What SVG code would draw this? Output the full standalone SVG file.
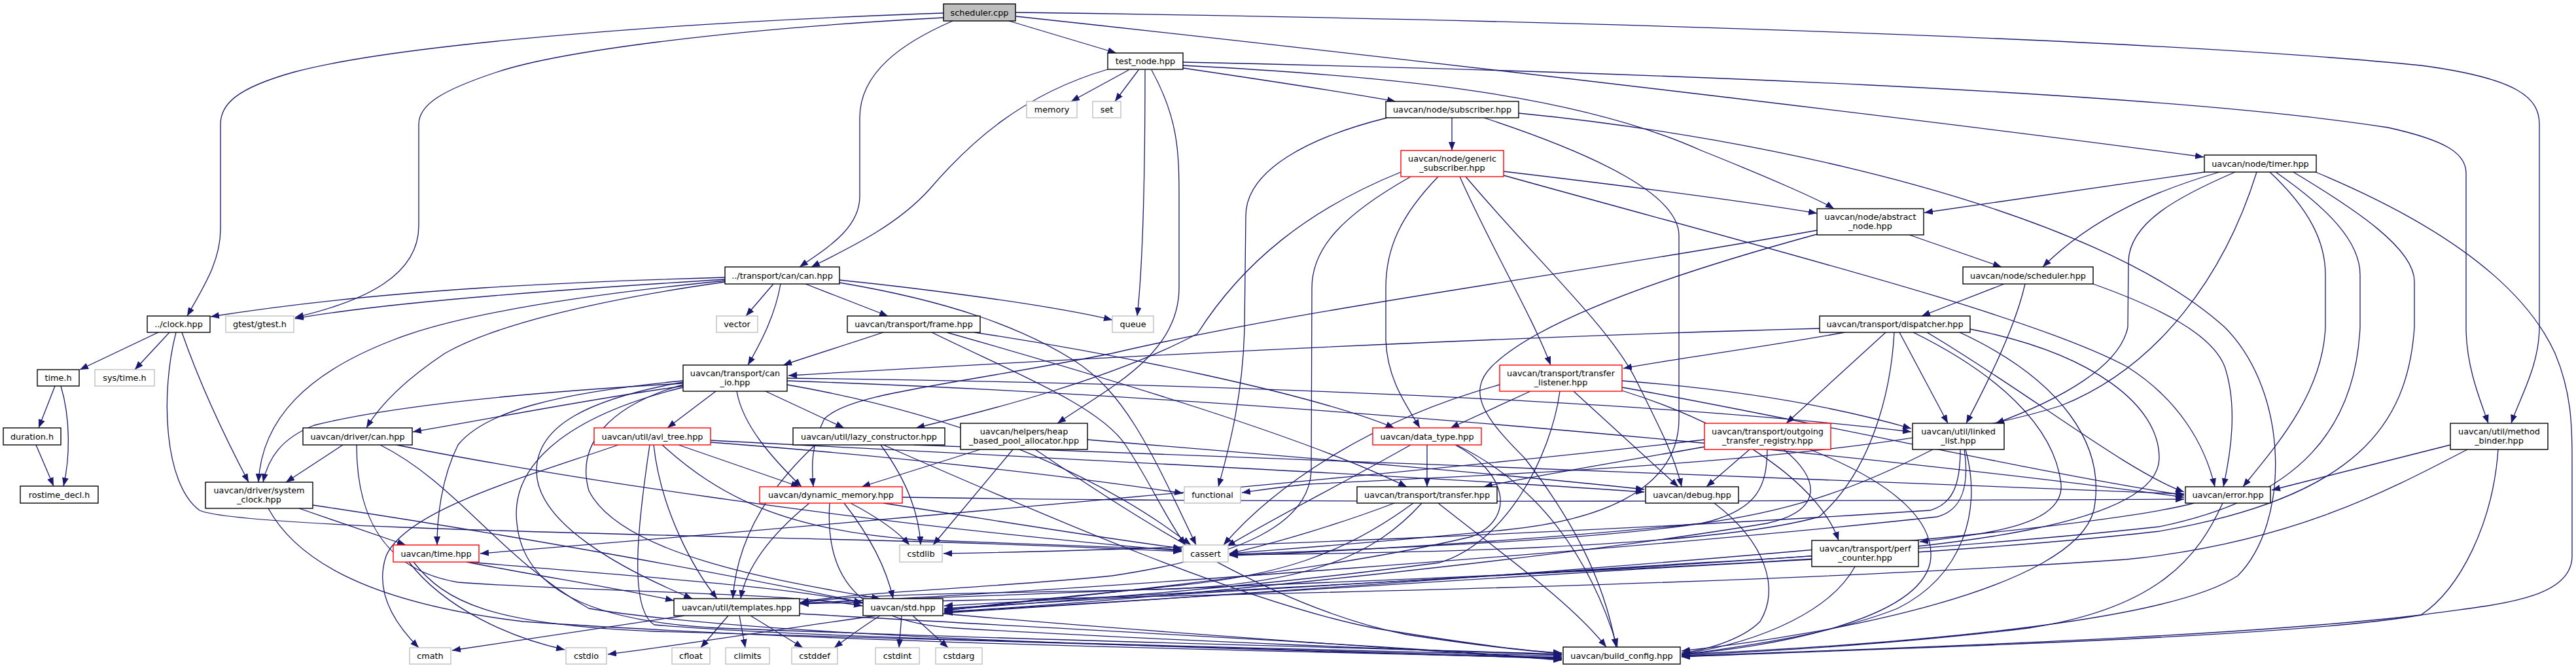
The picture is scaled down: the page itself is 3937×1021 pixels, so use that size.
<svg xmlns="http://www.w3.org/2000/svg" width="3937" height="1021" viewBox="0 0 3937 1021">
<defs>
<marker id="a" viewBox="0 0 13 10" refX="13" refY="5" markerWidth="13" markerHeight="10" markerUnits="userSpaceOnUse" orient="auto"><path d="M0,0 L13,5 L0,10 z" fill="#191970"/></marker>
<style>
.e path{fill:none;stroke:#191970;stroke-width:1.3;marker-end:url(#a)}
.n rect{fill:#fff;stroke:#000;stroke-width:1.4}
.g rect{fill:#fff;stroke:#bfbfbf;stroke-width:1.4}
.r rect{fill:#fff;stroke:#ff0000;stroke-width:1.4}
text{font-family:"DejaVu Sans","Liberation Sans",sans-serif;font-size:12.8px;text-anchor:middle;fill:#000}
</style>
</defs>
<rect x="0" y="0" width="3937" height="1021" fill="#fff"/>
<g id="edges" class="e">
<path d="M1442,20 C1000,35 600,70 450,110 C360,135 337,160 337,190 L337,350 C337,400 310,440 286,483"/>
<path d="M1442,27 C1100,45 850,80 760,110 C675,138 640,160 640,190 L640,345 C640,420 560,460 451,485"/>
<path d="M1456,32 C1380,65 1314,110 1314,180 L1314,300 C1314,350 1262,380 1222,408"/>
<path d="M1542,32 L1706,81"/>
<path d="M1553,25 C2200,95 3000,190 3368,240"/>
<path d="M1552,19 C2400,30 3300,60 3700,100 C3850,120 3881,150 3881,190 L3881,500 C3881,560 3850,610 3838,647"/>
<path d="M1808,95 C2500,110 3300,140 3650,195 C3740,215 3769,235 3769,265 L3769,500 C3769,560 3790,610 3803,647"/>
<path d="M1808,100 C2100,115 2400,140 2600,230 C2700,270 2780,305 2803,319"/>
<path d="M1808,104 C1950,125 2050,140 2133,155"/>
<path d="M1725,107 L1637,155"/>
<path d="M1740,107 L1704,155"/>
<path d="M1750,107 C1750,300 1745,420 1738,483"/>
<path d="M1693,106 C1560,145 1480,220 1420,290 C1370,345 1300,378 1240,408"/>
<path d="M1760,107 C1800,180 1802,230 1802,300 L1802,440 C1802,540 1700,590 1616,647"/>
<path d="M242,508 L122,565"/>
<path d="M259,508 L206,565"/>
<path d="M278,508 C310,600 350,680 380,737"/>
<path d="M269,508 C245,600 250,740 305,780 C360,805 900,815 1300,825 C1500,830 1700,838 1806,843"/>
<path d="M84,590 L59,654"/>
<path d="M93,590 C108,640 107,700 97,743"/>
<path d="M55,680 L82,743"/>
<path d="M1182,434 L1140,483"/>
<path d="M1193,434 C1185,480 1165,520 1143,558"/>
<path d="M1231,434 L1357,483"/>
<path d="M1283,428 C1400,440 1600,465 1700,489"/>
<path d="M1283,432 C1450,460 1560,500 1640,550 C1720,600 1760,690 1828,833"/>
<path d="M1108,424 C900,430 600,440 322,484"/>
<path d="M1108,427 C900,440 600,460 451,487"/>
<path d="M1108,429 C900,450 700,480 600,520 C470,570 400,640 395,737"/>
<path d="M1108,431 C900,460 750,500 680,540 C620,580 580,620 560,654"/>
<path d="M2219,180 L2219,230"/>
<path d="M2120,180 C2000,210 1904,260 1904,330 L1902,500 C1900,600 1880,680 1862,744"/>
<path d="M2268,180 C2450,240 2566,300 2566,360 L2566,640 C2566,720 2500,790 2300,810 C2100,830 1950,840 1879,846"/>
<path d="M2321,173 C2700,210 3200,320 3400,500 C3500,600 3500,800 3420,880 C3300,960 2800,990 2570,1000"/>
<path d="M2298,262 C2450,280 2650,305 2777,326"/>
<path d="M2298,268 C2700,380 3100,480 3250,560 C3330,610 3370,680 3385,744"/>
<path d="M2231,270 C2280,380 2340,480 2370,558"/>
<path d="M2240,270 C2350,400 2460,500 2500,580 C2540,660 2560,700 2570,744"/>
<path d="M2198,270 C2140,330 2118,380 2118,440 L2118,520 C2120,580 2150,620 2170,654"/>
<path d="M2156,270 C2050,330 2005,380 2005,440 L2004,720 C2000,800 1900,850 1700,880 C1500,900 1300,905 1223,921"/>
<path d="M2141,263 C2000,320 1900,400 1830,510 C1700,580 1500,630 1400,654"/>
<path d="M2918,359 L3059,408"/>
<path d="M2777,352 C2400,420 2000,470 1700,540 C1450,590 1300,600 1260,640 C1240,680 1240,710 1243,744"/>
<path d="M2777,358 C2550,420 2350,490 2280,560 C2240,600 2270,640 2330,700 C2400,790 2450,880 2470,989"/>
<path d="M3369,263 L2941,325"/>
<path d="M3392,263 C3300,290 3200,330 3122,408"/>
<path d="M3416,263 C3330,300 3254,340 3253,400 L3252,500 C3240,560 3150,610 3050,647"/>
<path d="M3449,263 C3400,420 3300,560 3150,620 C2900,700 2400,720 2000,740 C1950,745 1920,750 1898,753"/>
<path d="M3469,263 C3530,320 3554,370 3554,420 L3554,500 C3550,600 3480,680 3428,744"/>
<path d="M3478,263 C3560,320 3607,370 3607,420 L3607,500 C3600,650 3520,760 3300,805 C2800,860 1800,905 1443,926"/>
<path d="M3505,263 C3600,320 3690,380 3690,430 L3690,500 C3680,650 3600,760 3300,812 C2800,870 1600,905 1223,922"/>
<path d="M3539,263 C3700,330 3850,420 3905,540 C3930,600 3931,650 3931,700 L3931,850 C3931,920 3800,925 3700,940 C3400,975 2900,990 2570,1003"/>
<path d="M3063,434 L2937,483"/>
<path d="M3095,434 C3080,500 3040,580 3005,647"/>
<path d="M3199,434 C3300,470 3380,510 3400,560 C3420,620 3410,690 3398,744"/>
<path d="M2781,502 C2300,515 1700,545 1205,574"/>
<path d="M2819,508 C2700,530 2580,545 2481,563"/>
<path d="M2882,508 L2730,647"/>
<path d="M2903,508 L2977,647"/>
<path d="M2924,508 C3050,570 3140,650 3150,740 C3155,800 3050,815 2934,828"/>
<path d="M2945,508 C3100,600 3250,720 3338,752"/>
<path d="M2895,508 C2890,600 2860,720 2780,790 C2600,840 2100,846 1879,848"/>
<path d="M3011,503 C3200,540 3300,620 3300,700 C3300,800 3000,840 2600,860 C2200,885 1700,915 1443,930"/>
<path d="M2995,508 C3150,580 3220,680 3200,780 C3170,900 2800,970 2570,995"/>
<path d="M2339,598 L2217,654"/>
<path d="M2405,598 L2565,744"/>
<path d="M2384,598 C2370,700 2300,830 2200,860 C1900,900 1600,920 1443,932"/>
<path d="M2292,588 C2100,640 1950,740 1870,833"/>
<path d="M2479,582 C2650,595 2800,620 2921,655"/>
<path d="M2479,592 C2800,650 3100,720 3338,757"/>
<path d="M2479,597 C2650,650 2780,740 2810,826"/>
<path d="M2181,680 L2181,744"/>
<path d="M2156,680 C2050,740 1950,790 1875,835"/>
<path d="M2224,680 C2300,720 2320,790 2250,820 C2000,880 1600,915 1443,933"/>
<path d="M2226,680 C2350,740 2430,850 2472,989"/>
<path d="M2131,769 C2050,800 1950,830 1879,846"/>
<path d="M2160,769 C2050,850 1950,880 1800,895 C1600,915 1500,925 1443,934"/>
<path d="M2173,769 C2100,850 2000,890 1800,900 C1600,906 1300,906 1223,922"/>
<path d="M2198,769 C2300,850 2400,920 2455,989"/>
<path d="M2620,769 C2700,830 2720,900 2690,950 C2660,980 2600,995 2570,998"/>
<path d="M2674,687 L2608,744"/>
<path d="M2605,683 C2450,710 2330,730 2268,744"/>
<path d="M2701,687 C2700,740 2690,780 2600,800 C2400,830 2000,843 1879,847"/>
<path d="M2726,687 C2780,730 2790,780 2700,800 C2400,850 1800,915 1443,935"/>
<path d="M2766,687 C2900,740 2960,800 2950,860 C2930,950 2700,990 2570,1000"/>
<path d="M2605,672 C2200,720 1300,800 734,846"/>
<path d="M2954,687 C2850,740 2750,780 2600,800 C2300,830 2000,845 1879,849"/>
<path d="M2996,687 C2996,740 2985,770 2950,780 C2500,810 1800,840 1442,846"/>
<path d="M3002,687 C3010,740 3000,780 2960,790 C2500,840 1600,906 1223,922"/>
<path d="M3004,687 C3030,780 3000,880 2900,930 C2800,970 2650,990 2570,1001"/>
<path d="M2769,855 C2300,880 1800,915 1443,936"/>
<path d="M2835,866 C2800,930 2700,980 2570,1000"/>
<path d="M3353,769 C3200,810 2500,870 1443,937"/>
<path d="M3397,769 C3360,850 3300,930 3100,960 C2900,985 2700,995 2570,1002"/>
<path d="M3745,680 L3472,749"/>
<path d="M3771,687 C3650,750 3500,830 3250,855 C2600,900 1700,912 1223,923"/>
<path d="M3818,687 C3810,800 3760,900 3700,940 C3500,975 2900,990 2570,1004"/>
<path d="M1094,598 L1020,654"/>
<path d="M1126,598 C1135,650 1180,700 1225,744"/>
<path d="M1170,598 L1290,654"/>
<path d="M1044,590 C900,610 750,640 631,660"/>
<path d="M1044,586 C800,600 600,620 480,650 C430,670 410,700 402,737"/>
<path d="M1044,582 C850,600 740,630 700,680 C675,730 668,790 668,833"/>
<path d="M1044,584 C900,610 820,650 820,720 C820,800 950,870 1058,915"/>
<path d="M1044,588 C930,620 880,680 900,750 C950,850 1200,890 1345,915"/>
<path d="M1044,592 C850,640 780,720 790,800 C800,900 900,950 1100,960 C1600,980 2100,990 2387,1000"/>
<path d="M1203,578 C1800,585 2500,610 2921,660"/>
<path d="M1203,582 C2000,610 2900,700 3338,760"/>
<path d="M1203,588 C1500,640 1700,740 1820,833"/>
<path d="M1037,680 L1222,744"/>
<path d="M999,680 C1010,780 1060,870 1096,915"/>
<path d="M945,680 C800,730 620,780 590,850 C570,910 610,960 640,990"/>
<path d="M993,680 C975,800 960,930 1000,955 C1300,980 2000,990 2387,1003"/>
<path d="M1012,680 C1100,760 1200,810 1400,825 C1600,832 1750,838 1806,840"/>
<path d="M1086,673 C1600,700 2200,730 2513,752"/>
<path d="M1086,676 C1400,700 1650,730 1808,754"/>
<path d="M1346,680 C1390,740 1405,790 1407,833"/>
<path d="M1246,680 C1160,760 1125,840 1120,915"/>
<path d="M1350,680 C1600,790 1900,920 2100,960 C2250,985 2330,995 2387,998"/>
<path d="M1397,680 C2000,705 2800,730 3338,755"/>
<path d="M1498,687 L1317,744"/>
<path d="M1548,687 L1426,833"/>
<path d="M1582,687 C1750,800 1950,930 2150,970 C2280,990 2350,996 2387,999"/>
<path d="M1662,672 C2000,700 2300,725 2513,748"/>
<path d="M1237,769 C1175,820 1140,870 1132,915"/>
<path d="M1300,769 C1340,790 1370,810 1390,833"/>
<path d="M1290,769 C1330,820 1355,870 1365,915"/>
<path d="M1268,769 C1262,860 1290,950 1460,960 C1800,980 2200,995 2387,1001"/>
<path d="M1350,769 C1550,800 1700,825 1806,838"/>
<path d="M1379,760 C2000,770 2800,765 3338,763"/>
<path d="M625,859 C680,930 780,975 863,993"/>
<path d="M713,859 C820,880 950,900 1030,918"/>
<path d="M718,859 C950,880 1200,895 1318,922"/>
<path d="M632,859 C680,920 750,955 1000,965 C1600,985 2100,995 2387,1005"/>
<path d="M457,777 L620,833"/>
<path d="M478,772 C800,820 1150,885 1318,921"/>
<path d="M410,777 C450,850 550,920 800,950 C1300,985 2000,995 2387,1006"/>
<path d="M524,680 L437,737"/>
<path d="M545,680 C545,780 580,870 700,890 C900,905 1200,905 1318,926"/>
<path d="M581,680 C700,740 760,850 900,930 C1200,980 2000,993 2387,1007"/>
<path d="M606,680 C800,720 1300,800 1806,842"/>
<path d="M1046,941 L691,994"/>
<path d="M1113,941 L1071,990"/>
<path d="M1130,941 L1139,990"/>
<path d="M1147,941 L1227,990"/>
<path d="M1222,938 C1600,960 2100,985 2387,1008"/>
<path d="M1340,941 C1200,960 1050,985 929,1000"/>
<path d="M1345,941 C1315,960 1295,975 1275,990"/>
<path d="M1378,941 L1374,990"/>
<path d="M1395,941 L1449,990"/>
<path d="M1441,938 C1800,970 2200,995 2387,1009"/>
<path d="M1350,508 C1300,525 1250,540 1197,558"/>
<path d="M1447,508 C1700,580 2000,670 2150,744"/>
<path d="M1489,508 C1700,540 2000,600 2131,654"/>
<path d="M1424,508 C1550,570 1680,620 1720,680 C1760,740 1780,790 1812,833"/>
</g>
<g id="n_sched" class="n"><rect x="1442" y="6" width="110" height="26" style="fill:#bfbfbf"/><text x="1497" y="23.5">scheduler.cpp</text></g>
<g id="n_testnode" class="n"><rect x="1693" y="81" width="115" height="25"/><text x="1750.5" y="98">test_node.hpp</text></g>
<g id="n_memory" class="g"><rect x="1569" y="155" width="77" height="25"/><text x="1607.5" y="172">memory</text></g>
<g id="n_set" class="g"><rect x="1670" y="155" width="43" height="25"/><text x="1691.5" y="172">set</text></g>
<g id="n_subscriber" class="n"><rect x="2118" y="155" width="203" height="25"/><text x="2219.5" y="172">uavcan/node/subscriber.hpp</text></g>
<g id="n_gensub" class="r"><rect x="2141" y="230" width="157" height="40"/><text x="2219.5" y="246.5">uavcan/node/generic</text><text x="2219.5" y="261">_subscriber.hpp</text></g>
<g id="n_timer" class="n"><rect x="3369" y="237" width="171" height="26"/><text x="3454.5" y="254.5">uavcan/node/timer.hpp</text></g>
<g id="n_abstract" class="n"><rect x="2777" y="319" width="163" height="40"/><text x="2858.5" y="335.5">uavcan/node/abstract</text><text x="2858.5" y="350">_node.hpp</text></g>
<g id="n_tcan" class="n"><rect x="1108" y="408" width="175" height="26"/><text x="1195.5" y="425.5">../transport/can/can.hpp</text></g>
<g id="n_schedhpp" class="n"><rect x="3000" y="408" width="199" height="26"/><text x="3099.5" y="425.5">uavcan/node/scheduler.hpp</text></g>
<g id="n_clock" class="n"><rect x="225" y="483" width="96" height="25"/><text x="273" y="500">../clock.hpp</text></g>
<g id="n_gtest" class="g"><rect x="345" y="483" width="104" height="25"/><text x="397" y="500">gtest/gtest.h</text></g>
<g id="n_vector" class="g"><rect x="1095" y="483" width="63" height="25"/><text x="1126.5" y="500">vector</text></g>
<g id="n_frame" class="n"><rect x="1295" y="483" width="203" height="25"/><text x="1396.5" y="500">uavcan/transport/frame.hpp</text></g>
<g id="n_queue" class="g"><rect x="1700" y="483" width="63" height="25"/><text x="1731.5" y="500">queue</text></g>
<g id="n_dispatcher" class="n"><rect x="2781" y="483" width="230" height="25"/><text x="2896" y="500">uavcan/transport/dispatcher.hpp</text></g>
<g id="n_timeh" class="n"><rect x="57" y="565" width="64" height="25"/><text x="89" y="582">time.h</text></g>
<g id="n_systime" class="g"><rect x="145" y="565" width="91" height="25"/><text x="190.5" y="582">sys/time.h</text></g>
<g id="n_canio" class="n"><rect x="1044" y="558" width="159" height="40"/><text x="1123.5" y="574.5">uavcan/transport/can</text><text x="1123.5" y="589">_io.hpp</text></g>
<g id="n_listener" class="r"><rect x="2292" y="558" width="187" height="40"/><text x="2385.5" y="574.5">uavcan/transport/transfer</text><text x="2385.5" y="589">_listener.hpp</text></g>
<g id="n_duration" class="n"><rect x="5" y="654" width="88" height="26"/><text x="49" y="671.5">duration.h</text></g>
<g id="n_drvcan" class="n"><rect x="463" y="654" width="167" height="26"/><text x="546.5" y="671.5">uavcan/driver/can.hpp</text></g>
<g id="n_avl" class="r"><rect x="908" y="654" width="178" height="26"/><text x="997" y="671.5">uavcan/util/avl_tree.hpp</text></g>
<g id="n_lazy" class="n"><rect x="1212" y="654" width="232" height="26"/><text x="1328" y="671.5">uavcan/util/lazy_constructor.hpp</text></g>
<g id="n_heap" class="n"><rect x="1468" y="647" width="194" height="40"/><text x="1565" y="663.5">uavcan/helpers/heap</text><text x="1565" y="678">_based_pool_allocator.hpp</text></g>
<g id="n_datatype" class="r"><rect x="2098" y="654" width="166" height="26"/><text x="2181" y="671.5">uavcan/data_type.hpp</text></g>
<g id="n_outgoing" class="r"><rect x="2605" y="647" width="193" height="40"/><text x="2701.5" y="663.5">uavcan/transport/outgoing</text><text x="2701.5" y="678">_transfer_registry.hpp</text></g>
<g id="n_linked" class="n"><rect x="2923" y="647" width="140" height="40"/><text x="2993" y="663.5">uavcan/util/linked</text><text x="2993" y="678">_list.hpp</text></g>
<g id="n_binder" class="n"><rect x="3745" y="647" width="149" height="40"/><text x="3819.5" y="663.5">uavcan/util/method</text><text x="3819.5" y="678">_binder.hpp</text></g>
<g id="n_rostime" class="n"><rect x="31" y="743" width="119" height="26"/><text x="90.5" y="760.5">rostime_decl.h</text></g>
<g id="n_sysclock" class="n"><rect x="314" y="737" width="164" height="40"/><text x="396" y="753.5">uavcan/driver/system</text><text x="396" y="768">_clock.hpp</text></g>
<g id="n_dynmem" class="r"><rect x="1161" y="744" width="218" height="25"/><text x="1270" y="761">uavcan/dynamic_memory.hpp</text></g>
<g id="n_functional" class="g"><rect x="1810" y="744" width="86" height="25"/><text x="1853" y="761">functional</text></g>
<g id="n_transfer" class="n"><rect x="2074" y="744" width="214" height="25"/><text x="2181" y="761">uavcan/transport/transfer.hpp</text></g>
<g id="n_debug" class="n"><rect x="2515" y="744" width="142" height="25"/><text x="2586" y="761">uavcan/debug.hpp</text></g>
<g id="n_error" class="n"><rect x="3340" y="744" width="130" height="25"/><text x="3405" y="761">uavcan/error.hpp</text></g>
<g id="n_timehpp" class="r"><rect x="601" y="833" width="131" height="26"/><text x="666.5" y="850.5">uavcan/time.hpp</text></g>
<g id="n_cstdlib" class="g"><rect x="1375" y="833" width="65" height="26"/><text x="1407.5" y="850.5">cstdlib</text></g>
<g id="n_cassert" class="g"><rect x="1808" y="833" width="69" height="26"/><text x="1842.5" y="850.5">cassert</text></g>
<g id="n_perf" class="n"><rect x="2769" y="826" width="163" height="40"/><text x="2850.5" y="842.5">uavcan/transport/perf</text><text x="2850.5" y="857">_counter.hpp</text></g>
<g id="n_templates" class="n"><rect x="1030" y="915" width="192" height="26"/><text x="1126" y="932.5">uavcan/util/templates.hpp</text></g>
<g id="n_stdhpp" class="n"><rect x="1319" y="915" width="122" height="26"/><text x="1380" y="932.5">uavcan/std.hpp</text></g>
<g id="n_cmath" class="g"><rect x="626" y="990" width="63" height="25"/><text x="657.5" y="1007">cmath</text></g>
<g id="n_cstdio" class="g"><rect x="865" y="990" width="62" height="25"/><text x="896" y="1007">cstdio</text></g>
<g id="n_cfloat" class="g"><rect x="1027" y="990" width="58" height="25"/><text x="1056" y="1007">cfloat</text></g>
<g id="n_climits" class="g"><rect x="1109" y="990" width="67" height="25"/><text x="1142.5" y="1007">climits</text></g>
<g id="n_cstddef" class="g"><rect x="1210" y="990" width="70" height="25"/><text x="1245" y="1007">cstddef</text></g>
<g id="n_cstdint" class="g"><rect x="1338" y="990" width="67" height="25"/><text x="1371.5" y="1007">cstdint</text></g>
<g id="n_cstdarg" class="g"><rect x="1430" y="990" width="71" height="25"/><text x="1465.5" y="1007">cstdarg</text></g>
<g id="n_buildcfg" class="n"><rect x="2389" y="989" width="179" height="26"/><text x="2478.5" y="1006.5">uavcan/build_config.hpp</text></g>
</svg>
